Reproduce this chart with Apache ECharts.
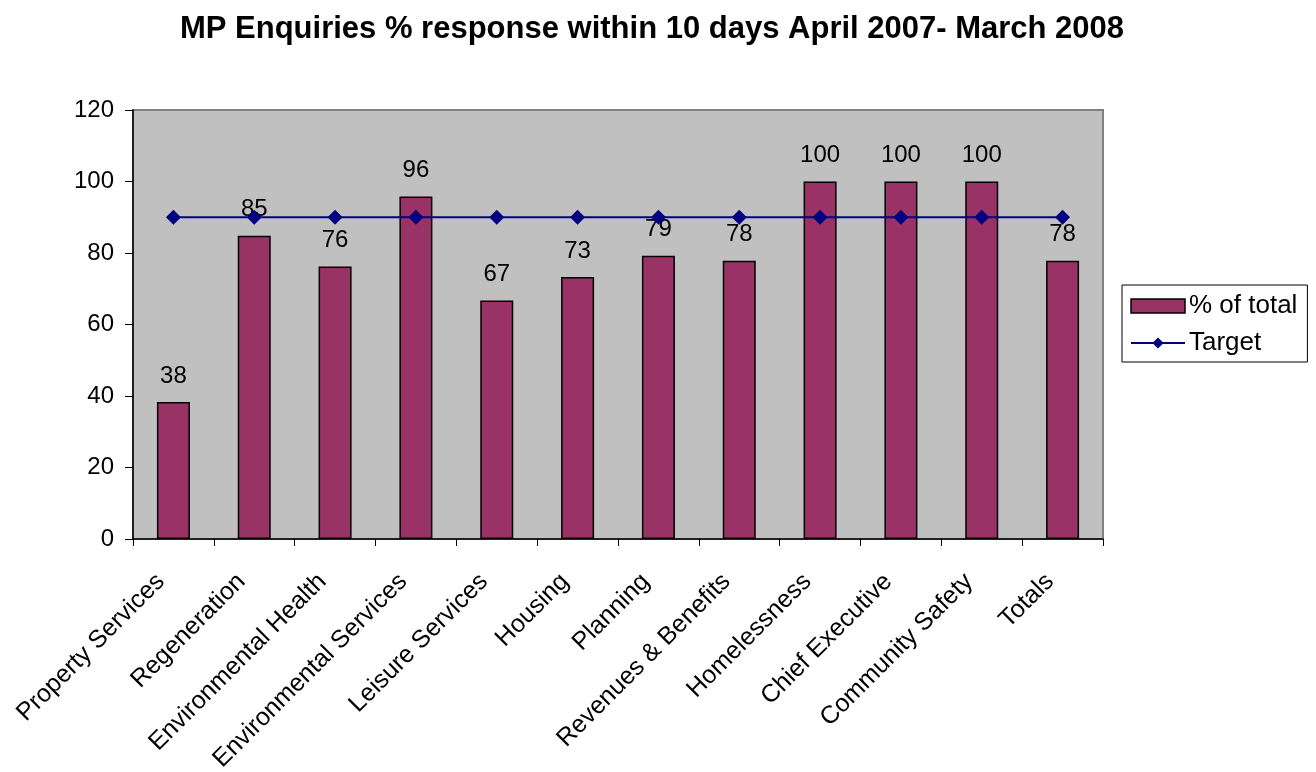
<!DOCTYPE html>
<html><head><meta charset="utf-8">
<script src="https://cdn.jsdelivr.net/npm/echarts@6/dist/echarts.min.js"></script>
<style>html,body{margin:0;padding:0;background:#fff}#c{width:1316px;height:772px}</style>
</head><body><div id="c"></div>
<script>
const categories = ["Property Services","Regeneration","Environmental Health","Environmental Services","Leisure Services","Housing","Planning","Revenues & Benefits","Homelessness","Chief Executive","Community Safety","Totals"];
const pctOfTotal = [38.3, 84.8, 76.2, 95.8, 66.7, 73.3, 79.2, 77.8, 100, 100, 100, 77.8];
const target = [90, 90, 90, 90, 90, 90, 90, 90, 90, 90, 90, 90];
const yTicks = {min: 0, max: 120, interval: 20};
const titleText = "MP Enquiries % response within 10 days April 2007- March 2008";

const chart = echarts.init(document.getElementById('c'));
const F = "Liberation Sans, Arial, sans-serif";
chart.setOption({
  animation: false,
  backgroundColor: '#fff',
  title: { text: titleText, left: 647, top: 9, textAlign: 'center',
    textStyle: { fontFamily: F, fontSize: 31, fontWeight: 'bold', color: '#000' } },
  legend: { left: 1122, top: 285, orient: 'vertical', backgroundColor: '#fff',
    borderColor: '#000', borderWidth: 1, borderRadius: 0, padding: [8, 10, 6, 8], itemGap: 11,
    itemWidth: 54, itemHeight: 14,
    textStyle: { fontFamily: F, fontSize: 26, color: '#000', padding: [0,0,0,-1] },
    data: [
      { name: '% of total', icon: 'rect', itemStyle: { color: '#993366', borderColor: '#000', borderWidth: 1.5 } },
      { name: 'Target' }
    ] },
  grid: { left: 133, right: 213, top: 110, bottom: 233, show: true, containLabel: false,
    outerBoundsMode: 'none',
    backgroundColor: '#C0C0C0', borderColor: '#808080', borderWidth: 2 },
  xAxis: { type: 'category', data: categories,
    axisLine: { lineStyle: { color: '#000', width: 1.5 } },
    axisTick: { show: true, length: 7, lineStyle: { color: '#000' } },
    axisLabel: { rotate: 45, interval: 0, fontFamily: F, fontSize: 25, color: '#000', margin: 26,
      padding: [0, 18, 0, 0] } },
  yAxis: { type: 'value', min: yTicks.min, max: yTicks.max, interval: yTicks.interval,
    axisLine: { show: true, lineStyle: { color: '#000', width: 1.5 } },
    axisTick: { show: true, length: 8, lineStyle: { color: '#000' } },
    splitLine: { show: false },
    axisLabel: { fontFamily: F, fontSize: 24, color: '#000', margin: 19 } },
  series: [
    { name: '% of total', type: 'bar', data: pctOfTotal, barWidth: 33,
      itemStyle: { color: '#993366', borderColor: '#000', borderWidth: 1.5 },
      label: { show: true, position: 'top', distance: 14, fontFamily: F, fontSize: 24, color: '#000',
        formatter: p => Math.round(p.value) } },
    { name: 'Target', type: 'line', data: target, symbol: 'diamond', symbolSize: 15,
      lineStyle: { color: '#000080', width: 2 }, itemStyle: { color: '#000080' }, z: 5 }
  ]
});
</script></body></html>
